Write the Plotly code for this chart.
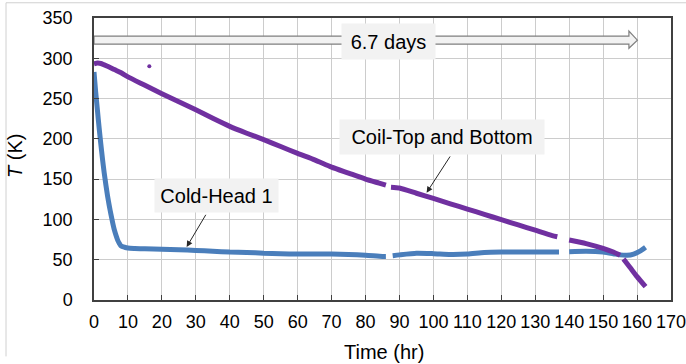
import plotly.graph_objects as go

# ---- data ----
ch_time = [0, 0.5, 1, 1.5, 2, 2.5, 3, 3.5, 4, 4.5, 5, 5.5, 6, 6.5, 7, 7.5, 8, 9, 10, 12, 15,
           20, 25, 30, 35, 40, 45, 50, 55, 60, 65, 70, 75, 80, 85, 86, None,
           88, 90, 95, 100, 105, 110, 115, 120, 125, 130, 135, 137, None,
           140, 145, 150, 153, 155, 157, 159, 161, 162.5]
ch_temp = [283, 258, 236, 214, 194, 175, 158, 143, 129, 117, 106, 96, 87, 80, 74, 70, 67, 65.5, 64.5, 64, 63.5,
           63, 62.5, 61.5, 60.5, 59.5, 59, 58, 57.5, 57, 57, 57, 56.5, 55.5, 54, 54, None,
           55, 56, 58, 57.5, 56.5, 57, 59, 59.5, 59.5, 59.5, 59.5, 59.5, None,
           60, 60.5, 59.5, 57.5, 56, 55.5, 57, 61, 65.5]

coil_time = [0, 1, 2, 4, 6, 8, 10, 15, 20, 25, 30, 35, 40, 45, 50, 55, 60, 65, 70, 75, 80, 84, 86, None,
             87.5, 90, 95, 100, 105, 110, 115, 120, 125, 130, 135, 136.5, None,
             140, 145, 150, 153, 155, None, 156, 158, 160, 162.5]
coil_temp = [293, 294, 293.5, 290, 286, 282, 277, 266.5, 256, 246, 236, 225.5, 215.5, 207, 199, 190.5, 182, 174, 165, 157.5, 150, 145, 142.5, None,
             140, 139, 132.5, 126, 119.4, 112.8, 106.3, 99.7, 93.2, 86.6, 80, 78.5, None,
             74.5, 70, 64, 59.5, 55.5, None, 51, 40, 29, 16.5]

stray_time = [16.3]
stray_temp = [290]

x_ticks = list(range(0, 171, 10))
y_ticks = list(range(0, 351, 50))

BLUE = "#4a7ebb"
PURPLE = "#7030a0"
FONT = "Liberation Sans, Arial, sans-serif"

fig = go.Figure()
fig.add_trace(go.Scatter(x=ch_time, y=ch_temp, mode="lines",
                         line=dict(color=BLUE, width=5, shape="spline", smoothing=0.6),
                         connectgaps=False, name="Cold-Head 1", showlegend=False))
fig.add_trace(go.Scatter(x=coil_time, y=coil_temp, mode="lines",
                         line=dict(color=PURPLE, width=5, shape="spline", smoothing=0.6),
                         connectgaps=False, name="Coil-Top and Bottom", showlegend=False))
fig.add_trace(go.Scatter(x=stray_time, y=stray_temp, mode="markers",
                         marker=dict(color=PURPLE, size=4), showlegend=False))

# block arrow "6.7 days"
arrow_path = ("M 0,317.6 L 157.6,317.6 L 157.6,312.4 L 160.1,322.5 "
              "L 157.6,333.8 L 157.6,327.5 L 0,327.5 Z")
shapes = [
    dict(type="path", path=arrow_path, xref="x", yref="y",
         fillcolor="#f2f2f2", line=dict(color="#7f7f7f", width=1.2), layer="above"),
    # outer image border (left/top)
    dict(type="line", xref="paper", yref="paper", x0=-0.1525, x1=-0.1525, y0=-0.2, y1=1.054,
         line=dict(color="#d0d0d0", width=1)),
    dict(type="line", xref="paper", yref="paper", x0=-0.1525, x1=1.1, y0=1.054, y1=1.054,
         line=dict(color="#d0d0d0", width=1)),
]

annots = [
    dict(x=86.8, y=320.5, xref="x", yref="y", text="6.7 days", showarrow=False,
         bgcolor="#f2f2f2", borderpad=0, width=93, height=35,
         font=dict(family=FONT, size=20, color="#000000")),
    dict(x=36.1, y=129.5, xref="x", yref="y", text="Cold-Head 1", showarrow=False,
         bgcolor="#f2f2f2", borderpad=0, width=123, height=33,
         font=dict(family=FONT, size=20, color="#000000")),
    dict(x=102.5, y=202.5, xref="x", yref="y", text="Coil-Top and Bottom", showarrow=False,
         bgcolor="#f2f2f2", borderpad=0, width=204, height=34,
         font=dict(family=FONT, size=20, color="#000000")),
    dict(x=27.3, y=65.8, ax=33.2, ay=107.6, xref="x", yref="y", axref="x", ayref="y",
         text="", showarrow=True, arrowhead=2, arrowsize=1.2, arrowwidth=1, arrowcolor="#262626"),
    dict(x=98.0, y=133.2, ax=105.2, ay=180, xref="x", yref="y", axref="x", ayref="y",
         text="", showarrow=True, arrowhead=2, arrowsize=1.2, arrowwidth=1, arrowcolor="#262626"),
    # axis titles
    dict(x=0.5026, y=-0.1844, xref="paper", yref="paper", text="Time (hr)", showarrow=False,
         xanchor="center", yanchor="middle", font=dict(family=FONT, size=20, color="#000000")),
    dict(x=-0.137, y=0.5106, xref="paper", yref="paper", text="<i>T</i> (K)", showarrow=False,
         textangle=-90, xanchor="center", yanchor="middle",
         font=dict(family=FONT, size=20, color="#000000")),
]

fig.update_layout(
    width=686, height=364,
    margin=dict(l=94, r=15, t=18, b=64),
    paper_bgcolor="white", plot_bgcolor="white",
    font=dict(family=FONT, size=18, color="#000000"),
    shapes=shapes, annotations=annots,
)
fig.update_xaxes(range=[0, 170], tickmode="array", tickvals=x_ticks, ticktext=[str(v) for v in x_ticks],
                 showgrid=True, gridcolor="#cccccc", gridwidth=1.3,
                 showline=True, linecolor="#404040", linewidth=1.5, mirror=True,
                 ticks="inside", ticklen=5, tickcolor="#404040", zeroline=False,
                 ticklabeloverflow="allow", ticklabelstandoff=5, automargin=False,
                 tickfont=dict(size=18))
fig.update_yaxes(range=[0, 350], tickmode="array", tickvals=y_ticks, ticktext=[str(v) for v in y_ticks],
                 showgrid=True, gridcolor="#cccccc", gridwidth=1.3,
                 showline=True, linecolor="#404040", linewidth=1.5, mirror=True,
                 ticks="inside", ticklen=5, tickcolor="#404040", zeroline=False,
                 automargin=False, tickfont=dict(size=18), ticklabelstandoff=16)

fig.write_html("out.html")
